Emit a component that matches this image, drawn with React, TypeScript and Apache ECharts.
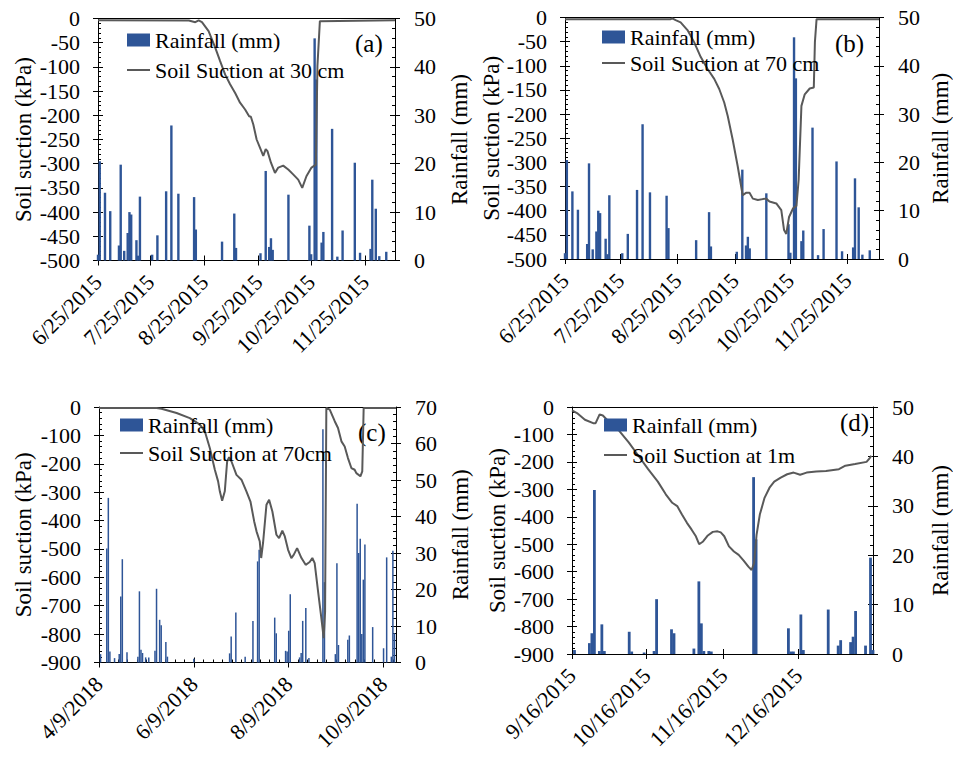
import React, { useEffect, useRef } from 'react';
import * as echarts from 'echarts';

const FONT = 'Liberation Serif';
const BAR_COLOR = '#2E5597';
const LINE_COLOR = '#595959';

// ---- Tick labels (x axes) ----
const ticks2015 = ['6/25/2015', '7/25/2015', '8/25/2015', '9/25/2015', '10/25/2015', '11/25/2015'];
const ticks2018 = ['4/9/2018', '6/9/2018', '8/9/2018', '10/9/2018'];
const ticksD = ['9/16/2015', '10/16/2015', '11/16/2015', '12/16/2015'];

// ---- Data: [days after first tick date, value] ----
// Rainfall (mm) for panels (a) and (b), from 6/25/2015
const rain2015: [number, number][] = [
  [0, 1.2], [1, 20.5], [4, 14], [7, 10.2], [12, 3.1], [13, 19.8], [15, 2], [17, 5.7], [18, 10],
  [19, 9.5], [22, 4.2], [23, 1], [24, 13.2], [31, 1.2], [34, 5.2], [39, 14.3], [42, 27.9],
  [46, 13.8], [55, 13.1], [56, 6.4], [71, 3.9], [78, 9.7], [79, 2.6], [93, 1.5], [96, 18.5],
  [98, 2.8], [99, 4.6], [100, 2.2], [109, 13.6], [121, 7.2], [122, 1.3], [124, 45.9], [125, 37.4],
  [128, 3.7], [129, 5.9], [134, 27.2], [137, 0.8], [140, 6.2], [147, 20.2], [150, 1.6],
  [156, 2.4], [157, 16.7], [159, 10.7], [161, 0.9], [165, 1.8],
];
// Soil suction (kPa) at 30 cm, panel (a)
const suction30cm: [number, number][] = [
  [0, -3.5], [52, -4], [55.7, -7.6], [57.6, -4], [59.5, -7.6], [63.3, -26], [67.1, -60], [69.9, -88],
  [72.8, -116], [75.6, -136], [78.5, -154], [81.3, -174], [84.2, -188], [86.5, -202], [87.5, -203],
  [88.9, -219], [90.8, -250], [92.7, -267], [94.6, -284], [96, -270], [97, -274], [99, -298],
  [101.3, -319], [103.2, -308], [106, -304], [108.9, -312], [111.7, -322], [114.6, -333],
  [116.9, -350], [119.3, -326], [122.2, -308], [124.7, -302], [125.6, -98], [127, -5.5], [170, -3.5],
];
// Soil suction (kPa) at 70 cm, panel (b)
const suction70cm: [number, number][] = [
  [0, -3.5], [57.2, -3.5], [58.1, -2], [59.9, -5.6], [62.6, -10], [66.3, -26], [69.9, -51],
  [73.5, -82], [77.2, -106.5], [80.8, -127], [83.5, -148], [86.2, -176], [88.1, -204], [90.8, -253],
  [93.5, -308], [96.2, -368], [98, -363], [99.9, -363], [101.7, -375], [104.4, -378], [107.1, -376],
  [108.9, -375], [110.7, -381], [114.4, -385], [117.1, -399], [118.6, -440], [119.8, -448],
  [121.3, -413], [123.5, -395], [125.3, -390], [126.5, -336], [128, -183], [129.8, -159],
  [132.5, -147], [134.7, -145], [135.3, -51], [136.2, -3.5], [170, -3.5],
];
// Rainfall (mm), panel (c), from 4/9/2018
const rain2018: [number, number][] = [
  [1, 2.3], [5, 31.2], [6, 45.1], [7, 3], [10, 1.2], [13, 2.3], [14, 18.1], [15, 28.3], [18, 2.8],
  [25, 1.6], [26, 19.5], [27, 3.5], [28, 2.6], [30, 1.4], [32, 1.4], [36, 3.2], [37, 20.2],
  [39, 11.7], [40, 10.2], [43, 5.6], [44, 1.6], [61, 1], [84, 2.5], [85, 7.1], [88, 13.7],
  [94, 1.6], [99, 11.4], [102, 27.7], [103, 30.9], [113, 12.3], [114, 8], [120, 3.2], [121, 3],
  [122, 8.7], [123, 18.7], [129, 1.4], [130, 2.6], [131, 11.4], [133, 14.9], [135, 1.2],
  [144, 63.9], [145, 22], [152, 2.3], [153, 27.2], [154, 4.8], [160, 6.2], [161, 7.4],
  [166, 43.5], [167, 30], [168, 33.9], [169, 7.8], [170, 22.7], [171, 32.3], [176, 9.7],
  [183, 3.9], [185, 28.8], [188, 1.6], [189, 30.6], [190, 8],
];
// Soil suction (kPa) at 70cm, panel (c)
const suction70cm2018: [number, number][] = [
  [0, -3.5], [37, -3.5], [40.2, -6], [49.9, -21], [58.4, -39], [64.9, -62], [68.1, -86], [71.3, -145],
  [74.5, -221], [76.6, -262], [77.7, -297], [79.2, -330], [80.9, -297], [82.4, -192], [83.7, -177],
  [85.2, -192], [88.4, -239], [91.6, -256], [94.8, -297], [97.4, -333], [99.8, -403], [101.3, -438],
  [103.4, -474], [104.3, -532], [105.5, -479], [107.7, -344], [109.4, -327], [111.5, -368],
  [114.1, -450], [115.8, -462], [117.9, -436], [119.5, -456], [121.6, -503], [123.7, -532],
  [125.2, -521], [127.4, -497], [130.2, -532], [132.9, -556], [135.5, -546], [137.2, -532],
  [138.7, -550], [140.9, -650], [143, -744], [144.5, -814], [145.4, -720], [146.2, -3.5],
  [148.4, -9], [151.6, -50], [153.7, -74], [155.9, -121], [158, -139], [160.1, -180], [162.3, -215],
  [164.4, -221], [165.5, -233], [168.1, -244], [169.3, -227], [170.2, -3.5], [191, -3.5],
];
// Rainfall (mm), panel (d), from 9/16/2015
const rainD: [number, number][] = [
  [1, 0.8], [7, 2.2], [8, 4.2], [9, 33.2], [11, 0.6], [12, 6], [13, 0.6], [23, 4.5], [24, 0.5],
  [29, 0.3], [33, 0.6], [34, 11.1], [40, 5], [41, 4.2], [49, 1.1], [51, 14.7], [52, 6.2],
  [53, 0.6], [55, 0.6], [56, 0.5], [73, 35.8], [74, 23.2], [87, 5.2], [88, 0.5], [89, 0.5],
  [92, 8], [93, 0.8], [103, 9], [107, 1.7], [108, 2.8], [112, 2.4], [113, 3.5], [114, 8.7],
  [118, 1.7], [120, 19.5], [121, 0.8],
];
// Soil suction (kPa) at 1 m, panel (d)
const suction1m: [number, number][] = [
  [0, -12], [2, -22], [5.2, -46.5], [8.5, -59], [9.5, -59], [11.1, -27], [12.4, -31], [15, -55],
  [18.9, -86], [22.8, -128.6], [26.7, -177.5], [30.6, -226.5], [34.5, -272], [37.7, -318],
  [40.3, -349], [42.3, -361], [44.2, -392], [46.2, -422], [48.1, -447], [49.8, -471], [51.1, -500],
  [52.7, -490], [54.6, -468], [56.6, -455], [58.5, -453], [59.8, -457], [61.2, -471], [63.1, -508],
  [65.1, -526.5], [67, -539], [69, -559.6], [70.9, -581.6], [72.2, -594], [73.2, -569],
  [74.2, -465], [75.5, -392], [77.4, -331], [79.4, -294], [81.3, -272], [83.9, -257], [86.5, -245],
  [89.1, -239], [91.7, -247], [94.3, -239], [98.2, -235], [102.1, -233], [107.3, -226.5],
  [109.9, -214], [113.8, -208], [118.4, -200], [119.7, -186], [120.3, -177.5],
];

function dayNum(s: string) {
  const [m, d, y] = s.split('/').map(Number);
  return Date.UTC(y, m - 1, d) / 86400000;
}

type Panel = {
  grid: { left: number; top: number; width: number; height: number };
  xMax: number; ticks: string[]; yMin: number; yInterval: number; rMax: number;
  rain: [number, number][]; suction: [number, number][]; name: string; tag: string;
  tagPos: [number, number]; legendPos: [number, number]; legendGap: number; barWidth: number;
  minorX: boolean; leftGap: number; rightGap: number;
};

const panels: Panel[] = [
  {
    grid: { left: 98, top: 18.5, width: 297, height: 242 }, xMax: 170, ticks: ticks2015,
    yMin: -500, yInterval: 50, rMax: 50, rain: rain2015, suction: suction30cm,
    name: 'Soil Suction at 30 cm', tag: '(a)', tagPos: [355, 43], legendPos: [126, 29], legendGap: 8,
    barWidth: 2.4, minorX: false, leftGap: 63, rightGap: 53,
  },
  {
    grid: { left: 565, top: 17.5, width: 314, height: 241.5 }, xMax: 170, ticks: ticks2015,
    yMin: -500, yInterval: 50, rMax: 50, rain: rain2015, suction: suction70cm,
    name: 'Soil Suction at 70 cm', tag: '(b)', tagPos: [835, 43], legendPos: [601, 26], legendGap: 4,
    barWidth: 2.4, minorX: false, leftGap: 61, rightGap: 50,
  },
  {
    grid: { left: 99, top: 407, width: 297, height: 255.5 }, xMax: 191, ticks: ticks2018,
    yMin: -900, yInterval: 100, rMax: 70, rain: rain2018, suction: suction70cm2018,
    name: 'Soil Suction at 70cm', tag: '(c)', tagPos: [358, 432], legendPos: [119, 414], legendGap: 6,
    barWidth: 1.5, minorX: true, leftGap: 64, rightGap: 53,
  },
  {
    grid: { left: 572, top: 407, width: 310, height: 247 }, xMax: 121, ticks: ticksD,
    yMin: -900, yInterval: 100, rMax: 50, rain: rainD, suction: suction1m,
    name: 'Soil Suction at 1m', tag: '(d)', tagPos: [840, 422], legendPos: [603, 414], legendGap: 8,
    barWidth: 2.8, minorX: false, leftGap: 63, rightGap: 56,
  },
];

function buildOption() {
  const grid: any[] = [];
  const xAxis: any[] = [];
  const yAxis: any[] = [];
  const series: any[] = [];
  const legend: any[] = [];
  const graphic: any[] = [];
  const black = { color: '#000', width: 1 };
  const hiddenLabel = { show: false };
  const labelFont = { fontSize: 22, fontFamily: FONT, color: '#000' };
  const nameFont = { fontSize: 23, fontFamily: FONT, color: '#000' };

  panels.forEach((p, i) => {
    grid.push({ ...p.grid, containLabel: false, show: false });
    const t0 = dayNum(p.ticks[0]);
    const tickVals = p.ticks.map((t) => dayNum(t) - t0);
    const fmt = (v: number) => {
      const k = tickVals.findIndex((x) => Math.abs(x - v) < 0.01);
      return k >= 0 ? p.ticks[k] : '';
    };
    const base = { type: 'value', gridIndex: i, min: 0, max: p.xMax, splitLine: { show: false } };
    const xMain = xAxis.length;
    xAxis.push({
      ...base, position: 'bottom',
      axisLine: { show: true, onZero: false, lineStyle: black },
      axisTick: { show: true, customValues: tickVals, length: 5, lineStyle: black },
      axisLabel: {
        ...labelFont, show: true, customValues: tickVals, formatter: fmt, rotate: 45, margin: 18,
      },
    });
    xAxis.push({
      ...base, position: 'bottom',
      axisLine: { show: false, onZero: false },
      axisTick: { show: true, inside: true, customValues: tickVals, length: 5, lineStyle: black },
      axisLabel: hiddenLabel,
    });
    xAxis.push({
      ...base, position: 'top',
      axisLine: { show: true, onZero: false, lineStyle: black },
      axisTick: { show: false }, axisLabel: hiddenLabel,
    });
    if (p.minorX) {
      const step = tickVals[1] / 10;
      const minor: number[] = [];
      for (let k = 1; k * step < p.xMax; k++) if (k % 10 !== 0) minor.push(k * step);
      xAxis.push({
        ...base, position: 'bottom',
        axisLine: { show: false, onZero: false },
        axisTick: { show: true, inside: true, customValues: minor, length: 3, lineStyle: black },
        axisLabel: hiddenLabel,
      });
    }

    const yBase = { type: 'value', gridIndex: i, splitLine: { show: false }, minorSplitLine: { show: false } };
    const yl = yAxis.length;
    yAxis.push({
      ...yBase, position: 'left', min: p.yMin, max: 0, interval: p.yInterval,
      name: 'Soil suction (kPa)', nameLocation: 'middle', nameGap: p.leftGap,
      nameTextStyle: nameFont,
      axisLine: { show: true, onZero: false, lineStyle: black },
      axisTick: { show: true, length: 5, lineStyle: black },
      axisLabel: { ...labelFont, margin: 18 },
    });
    yAxis.push({
      ...yBase, position: 'left', min: p.yMin, max: 0, interval: p.yInterval,
      axisLine: { show: false, onZero: false },
      axisTick: { show: true, inside: true, length: 5, lineStyle: black },
      minorTick: { show: true, splitNumber: 5, length: 3, lineStyle: black },
      axisLabel: hiddenLabel,
    });
    const yr = yAxis.length;
    yAxis.push({
      ...yBase, position: 'right', min: 0, max: p.rMax, interval: 10,
      name: 'Rainfall (mm)', nameLocation: 'middle', nameGap: p.rightGap,
      nameTextStyle: nameFont,
      axisLine: { show: true, onZero: false, lineStyle: black },
      axisTick: { show: true, length: 5, lineStyle: black },
      axisLabel: { ...labelFont, margin: 19 },
    });
    yAxis.push({
      ...yBase, position: 'right', min: 0, max: p.rMax, interval: 10,
      axisLine: { show: false, onZero: false },
      axisTick: { show: true, inside: true, length: 5, lineStyle: black },
      minorTick: { show: true, splitNumber: 5, length: 3, lineStyle: black },
      axisLabel: hiddenLabel,
    });

    series.push({
      type: 'bar', name: 'Rainfall (mm)', xAxisIndex: xMain, yAxisIndex: yr,
      data: p.rain, barWidth: p.barWidth, itemStyle: { color: BAR_COLOR },
    });
    series.push({
      type: 'line', name: p.name, xAxisIndex: xMain, yAxisIndex: yl, data: p.suction,
      symbol: 'none', showSymbol: false, lineStyle: { color: LINE_COLOR, width: 2 },
      itemStyle: { color: LINE_COLOR },
    });

    legend.push({
      left: p.legendPos[0], top: p.legendPos[1], orient: 'vertical', padding: 0,
      itemWidth: 23, itemHeight: 13, itemGap: p.legendGap, selectedMode: false,
      textStyle: { fontSize: 22, fontFamily: FONT, color: '#000' },
      data: [
        { name: 'Rainfall (mm)', icon: 'rect' },
        { name: p.name, itemStyle: { opacity: 0 }, lineStyle: { color: LINE_COLOR, width: 2 } },
      ],
    });

    graphic.push({
      type: 'text', x: p.tagPos[0], y: p.tagPos[1],
      style: { text: p.tag, fontSize: 25, fontFamily: FONT, fill: '#000', verticalAlign: 'middle' },
    });
  });

  return {
    animation: false,
    backgroundColor: '#fff',
    textStyle: { fontFamily: FONT },
    grid, xAxis, yAxis, series, legend, graphic,
  };
}

export default function App() {
  const ref = useRef<HTMLDivElement>(null);
  useEffect(() => {
    const chart = echarts.init(ref.current!, null, { renderer: 'svg' });
    chart.setOption(buildOption() as any);
    return () => chart.dispose();
  }, []);
  return (
    <div
      ref={ref}
      style={{
        position: 'fixed', left: 0, top: 0, width: 953, height: 757, background: '#fff',
        fontFamily: FONT,
      }}
    />
  );
}
